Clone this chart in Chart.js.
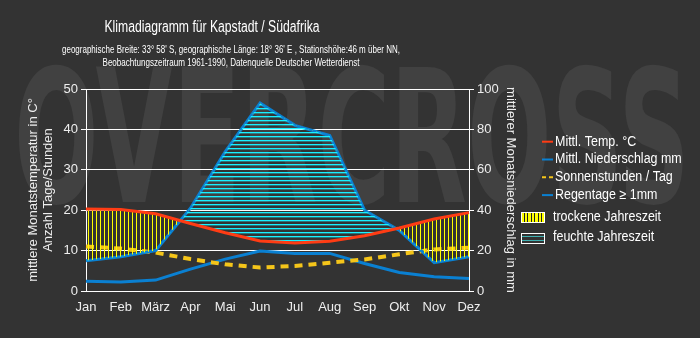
<!DOCTYPE html>
<html>
<head>
<meta charset="utf-8">
<script src="https://cdn.jsdelivr.net/npm/chart.js@4/dist/chart.umd.min.js"></script>
<style>
  body { margin: 0; background: #333; }
  canvas { display: block; }
</style>
</head>
<body>
<canvas id="canvas" width="700" height="338"></canvas>
<script>
// Klimadaten Kapstadt, 1961-1990
const months = ['Jan', 'Feb', 'März', 'Apr', 'Mai', 'Jun', 'Jul', 'Aug', 'Sep', 'Okt', 'Nov', 'Dez'];
const temperature = [20.3, 20.2, 19.1, 16.7, 14.4, 12.4, 11.9, 12.3, 13.7, 15.6, 17.8, 19.4];
const precipitation = [15, 17, 20, 41, 69, 93, 82, 77, 40, 30, 14, 17];
const sunHours = [11.0, 10.5, 9.5, 7.9, 6.6, 5.8, 6.2, 7.0, 7.8, 9.1, 10.3, 10.7];
const rainDays = [2.4, 2.2, 2.7, 5.4, 7.9, 9.9, 9.3, 9.3, 6.8, 4.6, 3.5, 3.1];

const title = 'Klimadiagramm für Kapstadt / Südafrika';
const subtitle = [
    "geographische Breite: 33° 58' S, geographische Länge: 18° 36' E , Stationshöhe:46 m über NN,",
    'Beobachtungszeitraum 1961-1990, Datenquelle Deutscher Wetterdienst'
];
const seasons = ['trockene Jahreszeit', 'feuchte Jahreszeit'];

const FONT = '"Liberation Sans", Arial, sans-serif';
const RED = '#ff3c14';
const BLUE = '#0a80d2';
const SUN = '#f5c51a';

const canvas = document.getElementById('canvas');
const ctx = canvas.getContext('2d');

// Schraffuren fuer trockene (senkrecht, gelb) und feuchte (waagerecht, cyan) Zeit
function hatch(color, soft, vertical) {
    const c = document.createElement('canvas');
    c.width = 4;
    c.height = 4;
    const g = c.getContext('2d');
    g.fillStyle = color;
    if (vertical) g.fillRect(0, 0, 1, 4);
    else g.fillRect(0, 0, 4, 1);
    if (soft) {
        g.fillStyle = soft;
        if (vertical) g.fillRect(1, 0, 1, 4);
        else g.fillRect(0, 1, 4, 1);
    }
    return ctx.createPattern(c, 'repeat');
}
const dryPattern = hatch('#ffff00', null, true);
const wetPattern = hatch('#18f0ff', 'rgba(24,240,255,0.35)', false);

// Text etwas schmaler laufen lassen
function squeezed(c, text, x, y, factor) {
    const w = c.measureText(text).width;
    c.fillText(text, x, y, w * factor);
}

const decorations = {
    id: 'decorations',
    beforeDraw(chart) {
        const c = chart.ctx;
        c.save();
        c.fillStyle = '#333333';
        c.fillRect(0, 0, chart.width, chart.height);
        // Wasserzeichen
        c.fillStyle = '#414141';
        c.font = 'bold 186px "DejaVu Sans Condensed", "DejaVu Sans", sans-serif';
        c.textAlign = 'left';
        c.textBaseline = 'alphabetic';
        c.fillText('OVERCROSS', 14, 202, 676);
        c.restore();
    },
    afterDraw(chart) {
        const c = chart.ctx;
        c.save();
        c.fillStyle = '#ffffff';
        c.textAlign = 'center';
        c.textBaseline = 'alphabetic';
        c.font = '16px ' + FONT;
        c.fillText(title, 212, 32, 215);
        c.font = '11px ' + FONT;
        c.fillText(subtitle[0], 231, 53, 338);
        c.fillText(subtitle[1], 231, 66, 257);

        // Legende
        c.textAlign = 'left';
        c.textBaseline = 'middle';
        c.font = '14px ' + FONT;
        chart.data.datasets.forEach((ds, i) => {
            const y = 141.7 + i * 17.8;
            c.strokeStyle = ds.borderColor;
            c.lineWidth = 2;
            c.setLineDash(ds.borderDash ? [4, 3] : []);
            c.beginPath();
            c.moveTo(542, y);
            c.lineTo(553, y);
            c.stroke();
            c.fillStyle = '#ffffff';
            squeezed(c, ds.label, 555, y, 0.89);
        });
        c.setLineDash([]);

        // trockene Jahreszeit
        c.fillStyle = '#ffff00';
        c.fillRect(521, 212, 24, 10);
        c.fillStyle = '#222';
        for (let x = 524; x < 545; x += 3.4) c.fillRect(Math.round(x), 212, 1, 10);
        c.strokeStyle = '#ffffff';
        c.lineWidth = 1;
        c.strokeRect(521.5, 212.5, 23, 10);
        // feuchte Jahreszeit
        c.fillStyle = '#333';
        c.fillRect(521, 233, 24, 10);
        c.fillStyle = '#3fb0b0';
        c.fillRect(522, 236, 22, 1);
        c.fillRect(522, 240, 22, 1);
        c.strokeRect(521.5, 233.5, 23, 10);

        c.fillStyle = '#ffffff';
        squeezed(c, seasons[0], 553, 217, 0.89);
        squeezed(c, seasons[1], 553, 237.5, 0.89);
        c.restore();
    }
};

const tickFont = { family: FONT, size: 13 };

new Chart(ctx, {
    type: 'line',
    data: {
        labels: months,
        datasets: [{
            label: 'Mittl. Temp. °C',
            data: temperature,
            yAxisID: 'y',
            borderColor: RED,
            borderWidth: 3,
            pointRadius: 0,
            fill: { target: 1, above: dryPattern, below: wetPattern }
        }, {
            label: 'Mittl. Niederschlag mm',
            data: precipitation,
            yAxisID: 'y1',
            borderColor: BLUE,
            borderWidth: 3,
            pointRadius: 0,
            fill: false
        }, {
            label: 'Sonnenstunden / Tag',
            data: sunHours,
            yAxisID: 'y',
            borderColor: SUN,
            borderWidth: 4,
            borderDash: [8, 6],
            pointRadius: 0,
            fill: false
        }, {
            label: 'Regentage ≥ 1mm',
            data: rainDays,
            yAxisID: 'y',
            borderColor: BLUE,
            borderWidth: 3,
            pointRadius: 0,
            fill: false
        }]
    },
    options: {
        responsive: false,
        animation: false,
        devicePixelRatio: 1,
        layout: { padding: { top: 89, right: 171, bottom: 0, left: 0 } },
        scales: {
            x: {
                grid: { display: false, drawTicks: false },
                border: { display: true, color: '#ffffff', width: 1 },
                ticks: { color: '#eeeeee', font: tickFont, padding: 9, maxRotation: 0, autoSkip: false },
                afterFit(scale) { scale.height = 47; }
            },
            y: {
                position: 'left',
                min: 0,
                max: 50,
                ticks: { stepSize: 10, color: '#eeeeee', font: tickFont, padding: 3 },
                grid: { color: '#ffffff', lineWidth: 1, tickLength: 5 },
                border: { color: '#ffffff', width: 1 },
                title: {
                    display: true,
                    text: ['mittlere Monatstemperatur in C°', 'Anzahl Tage/Stunden'],
                    color: '#eeeeee',
                    font: { family: FONT, size: 13, lineHeight: 1.15 },
                    padding: { top: 26, bottom: 0 }
                },
                afterFit(scale) { scale.width = 86; }
            },
            y1: {
                position: 'right',
                min: 0,
                max: 100,
                ticks: { stepSize: 20, color: '#eeeeee', font: tickFont, padding: 3 },
                grid: { drawOnChartArea: false, color: '#ffffff', tickLength: 5 },
                border: { color: '#ffffff', width: 1 },
                title: {
                    display: true,
                    text: 'mittlerer Monatsniederschlag in mm',
                    color: '#eeeeee',
                    font: { family: FONT, size: 13 },
                    padding: { top: 11, bottom: 0 }
                },
                afterFit(scale) { scale.width = 60; }
            }
        },
        plugins: {
            legend: { display: false },
            title: { display: false },
            tooltip: { enabled: false }
        }
    },
    plugins: [decorations]
});
</script>
</body>
</html>
